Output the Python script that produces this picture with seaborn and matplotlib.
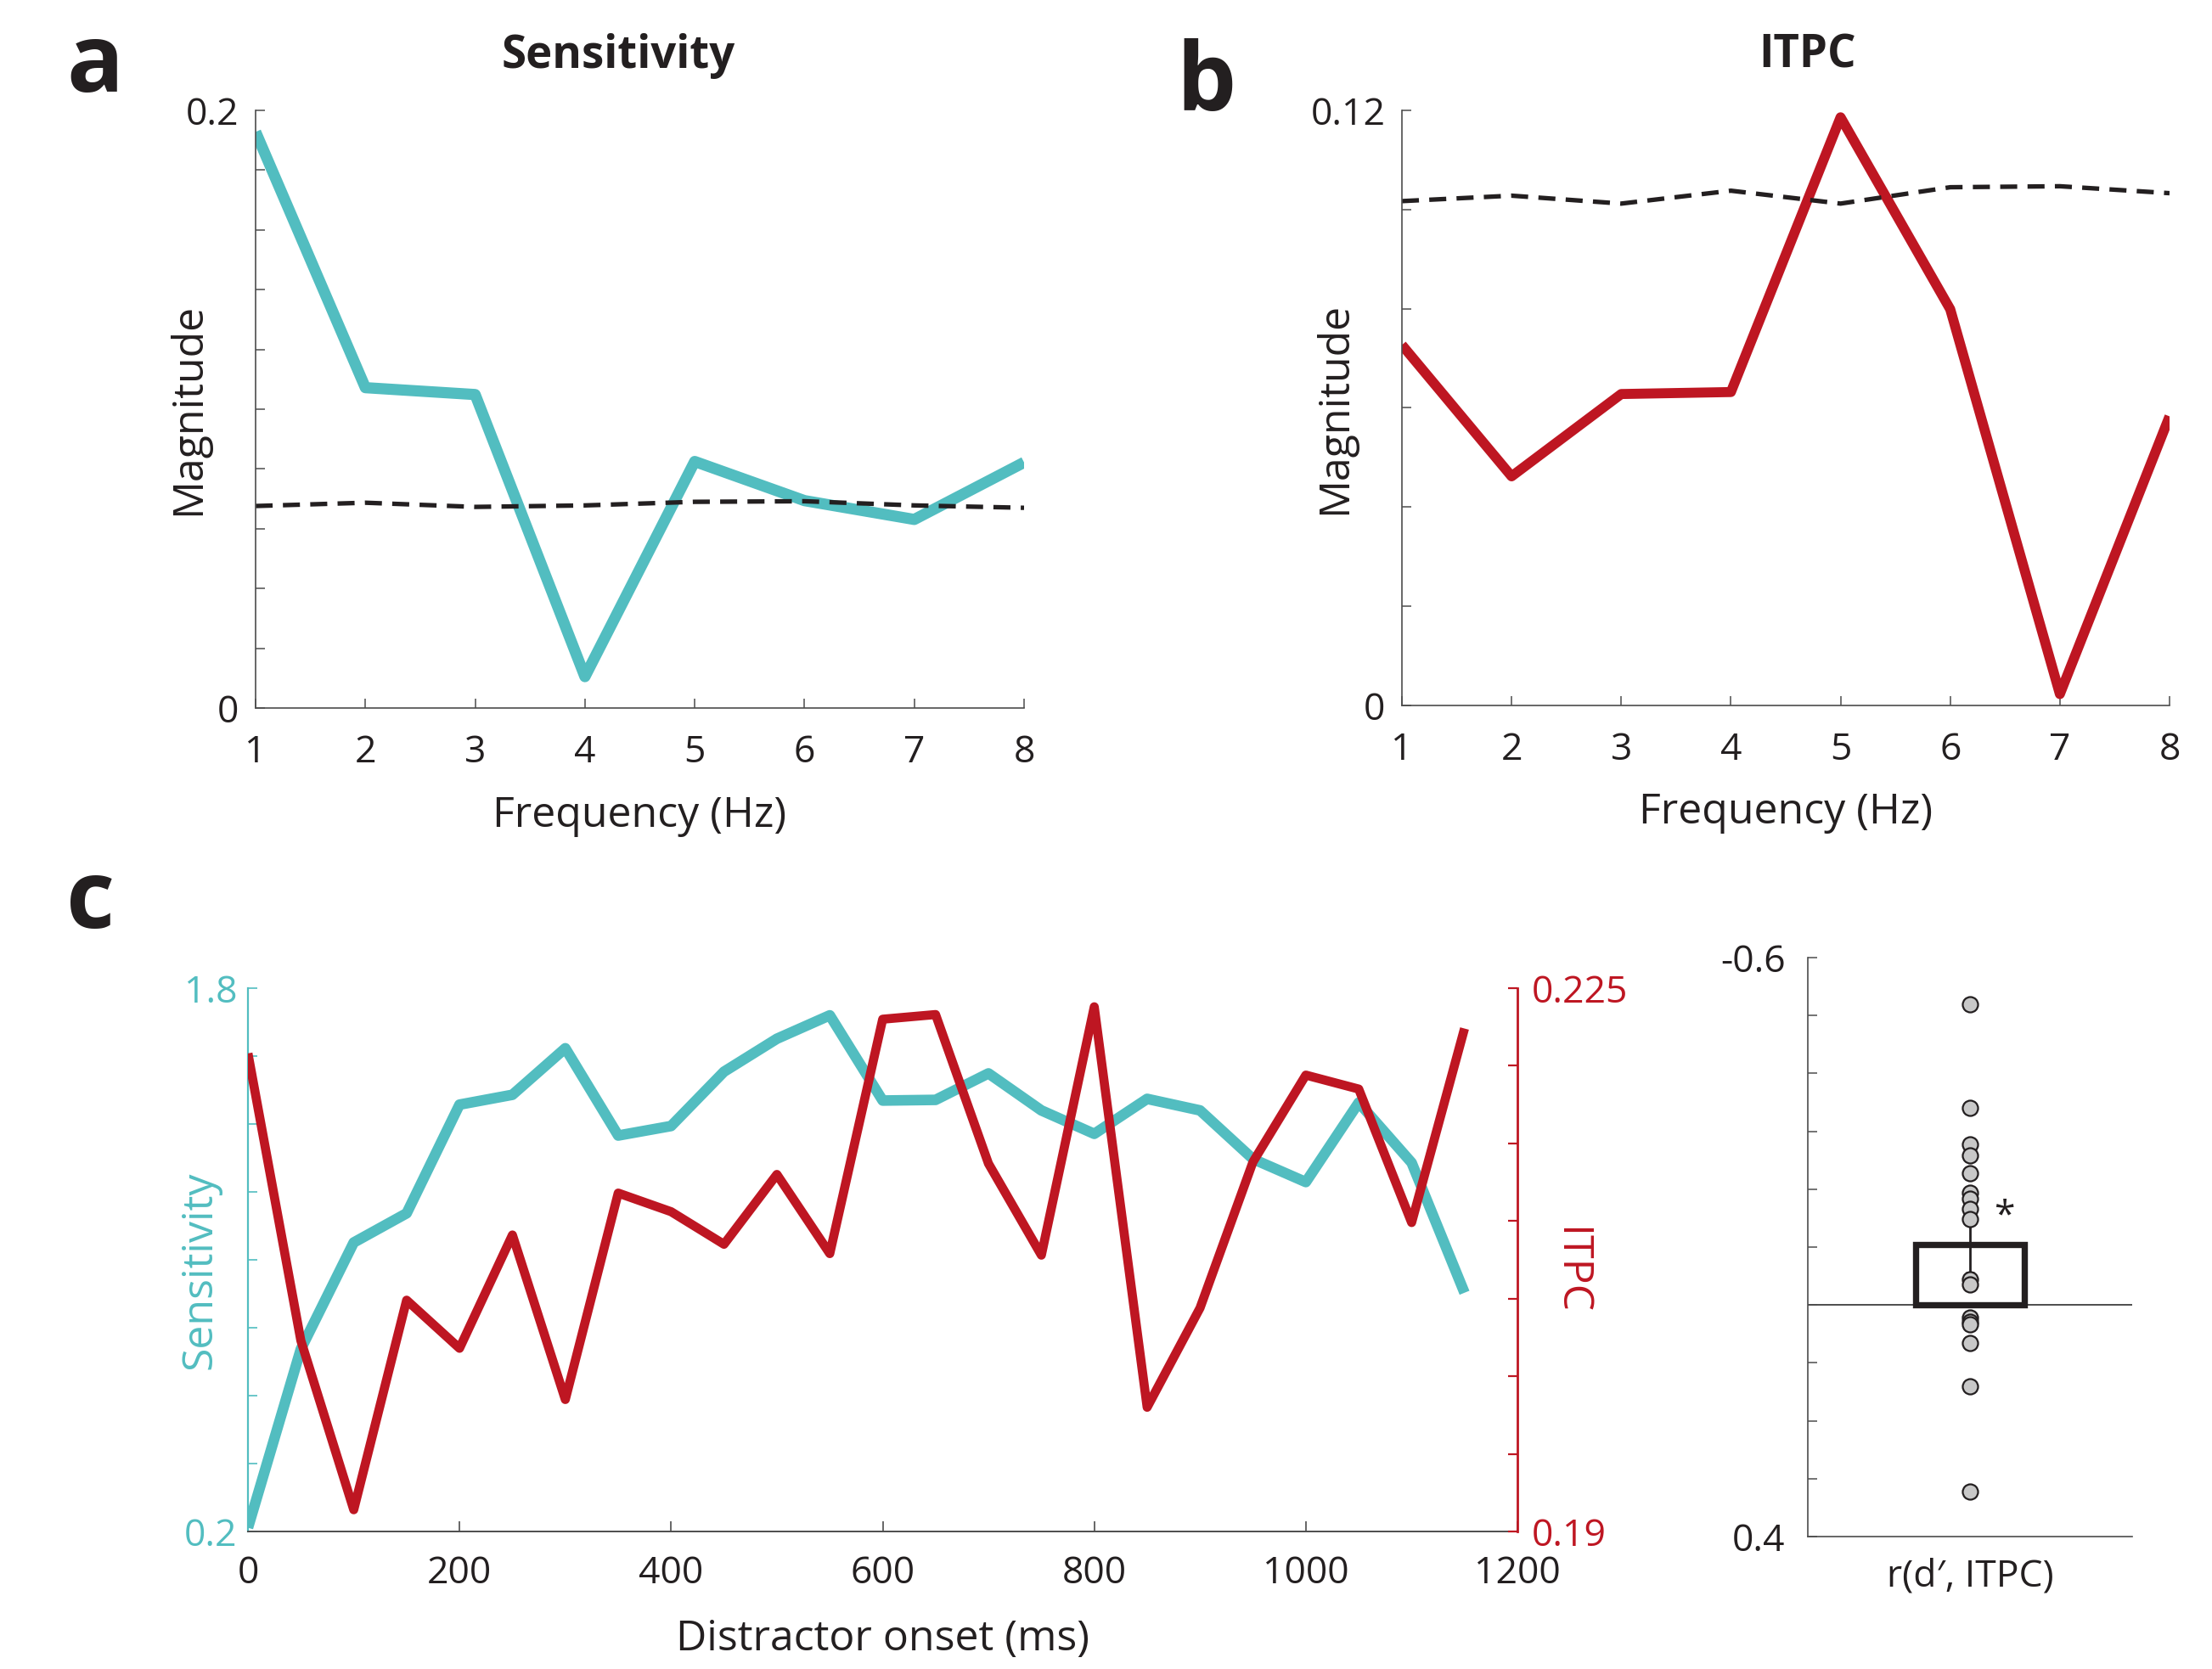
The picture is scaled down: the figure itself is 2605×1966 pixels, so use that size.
import numpy as np
import pandas as pd
import matplotlib
matplotlib.use("Agg")
import matplotlib.pyplot as plt
import seaborn as sns

# ---------------- data ----------------
freq = [1, 2, 3, 4, 5, 6, 7, 8]
sens_mag = [0.1928, 0.1072, 0.1049, 0.0105, 0.0825, 0.0694, 0.0631, 0.0822]
sens_null = [0.0676, 0.0687, 0.0673, 0.0678, 0.0690, 0.0692, 0.0678, 0.0670]
itpc_mag = [0.0727, 0.0462, 0.0628, 0.0632, 0.1186, 0.0799, 0.0023, 0.0583]
itpc_null = [0.1017, 0.1028, 0.1012, 0.1038, 0.1012, 0.1045, 0.1047, 0.1033]

onset_ms = [0, 50, 100, 150, 200, 250, 300, 350, 400, 450, 500, 550,
            600, 650, 700, 750, 800, 850, 900, 950, 1000, 1050, 1100, 1150]
sens_onset = [0.211, 0.737, 1.051, 1.137, 1.457, 1.486, 1.623, 1.366,
              1.394, 1.554, 1.651, 1.720, 1.469, 1.471, 1.549, 1.440,
              1.371, 1.474, 1.440, 1.297, 1.229, 1.463, 1.286, 0.903]
itpc_onset = [0.2208, 0.2023, 0.1914, 0.2049, 0.2018, 0.2091, 0.1985, 0.2118,
              0.2106, 0.2085, 0.2130, 0.2079, 0.2230, 0.2233, 0.2137, 0.2078,
              0.2238, 0.1980, 0.2044, 0.2138, 0.2194, 0.2185, 0.2099, 0.2224]

corr_label = "r(d\u2032, ITPC)"
corr_vals = [-0.519, -0.340, -0.278, -0.259, -0.227, -0.194, -0.183, -0.166,
             -0.148, -0.044, -0.036, 0.022, 0.029, 0.034, 0.065, 0.140, 0.322]

# ---------------- style ----------------
sns.set_theme(style="white")
plt.rcParams['font.family'] = ['Open Sans', 'DejaVu Sans']
plt.rcParams['axes.unicode_minus'] = False

W, H = 2605, 1966
fig = plt.figure(figsize=(W / 100, H / 100), dpi=100)

TEAL = '#52BDC0'
RED = '#BE1622'
INK = '#231F20'
GREY = '#4D4D4D'
TICK_FS = 32
LAB_FS = 36


def frame(l, t, r, b):
    return [l / W, 1 - b / H, (r - l) / W, (b - t) / H]


axa = fig.add_axes(frame(301, 130, 1206, 834))
axb = fig.add_axes(frame(1651, 130, 2555, 831))
axc = fig.add_axes(frame(292, 1164, 1787, 1804))
axd = fig.add_axes(frame(2129, 1128, 2511, 1810))


def style_spines(ax, color=GREY):
    for s in ['top', 'right']:
        ax.spines[s].set_visible(False)
    for s in ['left', 'bottom']:
        ax.spines[s].set_color(color)
        ax.spines[s].set_linewidth(1.2)


# ---------------- panels a & b ----------------
def freq_panel(ax, mag, null, color, lw, ymax, ylabels, title, title_x):
    df = pd.DataFrame({'freq': freq, 'mag': mag, 'null': null})
    sns.lineplot(data=df, x='freq', y='mag', ax=ax, color=color, lw=lw,
                 solid_capstyle='butt', solid_joinstyle='round')
    sns.lineplot(data=df, x='freq', y='null', ax=ax, color=INK, lw=3.8,
                 linestyle=(0, (3.8, 2.3)))
    ax.set_xlim(1, 8)
    ax.set_ylim(0, ymax)
    style_spines(ax)
    ax.set_xticks(freq)
    ax.set_xticklabels([str(f) for f in freq])
    ax.set_yticks(np.linspace(0, ymax, len(ylabels)))
    ax.set_yticklabels(ylabels, family=['Liberation Sans Narrow', 'Open Sans'])
    ax.tick_params(axis='x', direction='in', length=8, width=1.1, color=GREY,
                   labelsize=TICK_FS, labelcolor=INK, pad=22, bottom=True)
    ax.tick_params(axis='y', direction='in', length=8, width=1.1, color=GREY,
                   labelsize=TICK_FS, labelcolor=INK, pad=14, left=True)
    ax.set_xlabel('Frequency (Hz)', fontsize=LAB_FS, color=INK, va='top')
    ax.xaxis.set_label_coords(0.5, -0.145)
    ax.set_ylabel('Magnitude', fontsize=LAB_FS, color=INK)
    ax.yaxis.set_label_coords(-0.06, 0.5)
    fig.text(title_x / W, 1 - 66 / H, title, fontsize=38, fontweight='bold',
             color=INK, ha='center', va='center')


freq_panel(axa, sens_mag, sens_null, TEAL, 9.5, 0.2,
           ['0'] + [''] * 9 + ['0.2'], 'Sensitivity', 728)
freq_panel(axb, itpc_mag, itpc_null, RED, 8.5, 0.12,
           ['0'] + [''] * 5 + ['0.12'], 'ITPC', 2129)

# ---------------- panel c ----------------
sns.lineplot(x=onset_ms, y=sens_onset, ax=axc, color=TEAL, lw=9,
             solid_capstyle='butt')
axc.set_xlim(0, 1200)
axc.set_ylim(0.2, 1.8)
axc2 = axc.twinx()
sns.lineplot(x=onset_ms, y=itpc_onset, ax=axc2, color=RED, lw=7.7,
             solid_capstyle='butt')
axc2.set_ylim(0.19, 0.225)
axc2.set_xlim(0, 1200)

for s in ['top', 'right']:
    axc.spines[s].set_visible(False)
axc.spines['left'].set_color(TEAL)
axc.spines['left'].set_linewidth(1.6)
axc.spines['bottom'].set_color(GREY)
axc.spines['bottom'].set_linewidth(1.4)
for s in ['top', 'left', 'bottom']:
    axc2.spines[s].set_visible(False)
axc2.spines['right'].set_color(RED)
axc2.spines['right'].set_linewidth(2.0)

axc.set_xticks([0, 200, 400, 600, 800, 1000, 1200])
axc.set_xticklabels(['0', '200', '400', '600', '800', '1000', '1200'])
axc.set_yticks(np.linspace(0.2, 1.8, 9))
axc.set_yticklabels(['0.2'] + [''] * 7 + ['1.8'])
axc2.set_yticks(np.linspace(0.19, 0.225, 8))
axc2.set_yticklabels(['0.19'] + [''] * 6 + ['0.225'])
axc.tick_params(axis='x', direction='in', length=9, width=1.2, color=GREY,
                labelsize=TICK_FS, labelcolor=INK, pad=20, bottom=True)
axc.tick_params(axis='y', direction='in', length=8, width=1.2, color=TEAL,
                labelsize=TICK_FS, labelcolor=TEAL, pad=9, left=True)
axc2.tick_params(axis='y', direction='in', length=8, width=1.6, color=RED,
                 labelsize=TICK_FS, labelcolor=RED, pad=12, right=True)
axc.set_xlabel('Distractor onset (ms)', fontsize=LAB_FS, color=INK, va='top')
axc.xaxis.set_label_coords(0.5, -0.16)
axc.set_ylabel('Sensitivity', fontsize=LAB_FS, color=TEAL)
axc.yaxis.set_label_coords(-0.021, 0.48)
axc2.set_ylabel('ITPC', fontsize=LAB_FS, color=RED, rotation=270, va='bottom')
axc2.yaxis.set_label_coords(1.025, 0.48)

# ---------------- panel d ----------------
df_d = pd.DataFrame({'measure': [corr_label] * len(corr_vals), 'r': corr_vals})
axd.axhline(0, color=GREY, lw=1.4, zorder=0.5)
sns.barplot(data=df_d, x='measure', y='r', ax=axd, errorbar='se', width=1.0,
            color='white', saturation=1, edgecolor=INK, linewidth=5.3,
            capsize=0.06, err_kws={'color': INK, 'linewidth': 2.0}, zorder=2)
sns.stripplot(data=df_d, x='measure', y='r', ax=axd, jitter=False,
              color='#C8C8C8', edgecolor=INK, linewidth=1.6, size=13,
              zorder=4)
axd.set_xlim(-1.5, 1.5)
axd.set_ylim(0.4, -0.6)
style_spines(axd)
axd.set_yticks(np.linspace(-0.6, 0.4, 11))
axd.set_yticklabels(['-0.6'] + [''] * 9 + ['0.4'])
axd.tick_params(axis='y', direction='in', length=8, width=1.1, color=GREY,
                labelsize=TICK_FS, labelcolor=INK, pad=19, left=True)
axd.tick_params(axis='x', length=0, labelsize=TICK_FS, labelcolor=INK, pad=18)
axd.set_xlabel('')
axd.set_ylabel('')
axd.text(0.32, -0.152, '*', fontsize=32, ha='center', va='center', color=INK)

# ---------------- panel letters ----------------
for letter, x, y in [('a', 78, 108), ('b', 1385, 130), ('c', 78, 1093)]:
    fig.text(x / W, 1 - y / H, letter, fontsize=80, fontweight='bold',
             color=INK, ha='left', va='baseline')

fig.savefig('out.png', dpi=100, facecolor='white')
